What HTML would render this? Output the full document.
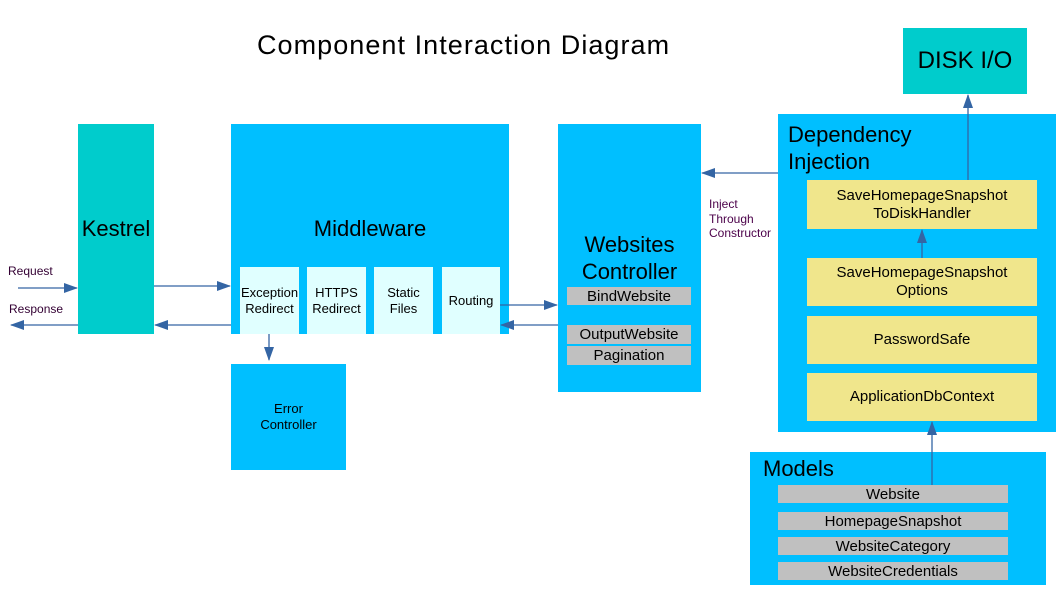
<!DOCTYPE html>
<html><head><style>
body{margin:0;width:1058px;height:595px;background:#fff;position:relative;overflow:hidden;font-family:"Liberation Sans",sans-serif;}
.b{position:absolute;box-sizing:border-box;}
.t{position:absolute;white-space:nowrap;color:#000;}
.c{display:flex;align-items:center;justify-content:center;text-align:center;line-height:1.2;}
.teal{background:#00cccc}.blue{background:#00bfff}.lc{background:#e0ffff;font-size:13px}
.y{background:#f0e68c;font-size:15px}.g{background:#c0c0c0;font-size:15px;line-height:1}
</style></head><body>
<div class="t" style="left:257px;top:30px;font-size:27px;letter-spacing:1.05px;">Component Interaction Diagram</div>
<div class="b teal c" style="left:903px;top:28px;width:124px;height:66px;font-size:24px;">DISK I/O</div>
<div class="b teal c" style="left:78px;top:124px;width:76px;height:210px;font-size:22px;">Kestrel</div>
<div class="b blue" style="left:231px;top:124px;width:278px;height:210px;"></div>
<div class="t" style="left:231px;width:278px;text-align:center;top:216px;font-size:22px;">Middleware</div>
<div class="b lc c" style="left:240px;top:267px;width:59px;height:67px;">Exception<br>Redirect</div>
<div class="b lc c" style="left:307px;top:267px;width:59px;height:67px;">HTTPS<br>Redirect</div>
<div class="b lc c" style="left:374px;top:267px;width:59px;height:67px;">Static<br>Files</div>
<div class="b lc c" style="left:442px;top:267px;width:58px;height:67px;">Routing</div>
<div class="b blue c" style="left:231px;top:364px;width:115px;height:106px;font-size:13px;">Error<br>Controller</div>
<div class="b blue" style="left:558px;top:124px;width:143px;height:268px;"></div>
<div class="t" style="left:558px;width:143px;text-align:center;top:231px;font-size:22px;line-height:27px;">Websites<br>Controller</div>
<div class="b g c" style="left:567px;top:287px;width:124px;height:18px;">BindWebsite</div>
<div class="b g c" style="left:567px;top:325px;width:124px;height:19px;">OutputWebsite</div>
<div class="b g c" style="left:567px;top:346px;width:124px;height:19px;">Pagination</div>
<div class="b blue" style="left:778px;top:114px;width:278px;height:318px;"></div>
<div class="t" style="left:788px;top:121px;font-size:22px;line-height:27px;">Dependency<br>Injection</div>
<div class="b y c" style="left:807px;top:180px;width:230px;height:49px;">SaveHomepageSnapshot<br>ToDiskHandler</div>
<div class="b y c" style="left:807px;top:258px;width:230px;height:48px;">SaveHomepageSnapshot<br>Options</div>
<div class="b y c" style="left:807px;top:316px;width:230px;height:48px;">PasswordSafe</div>
<div class="b y c" style="left:807px;top:373px;width:230px;height:48px;">ApplicationDbContext</div>
<div class="b blue" style="left:750px;top:452px;width:296px;height:133px;"></div>
<div class="t" style="left:763px;top:456px;font-size:22px;">Models</div>
<div class="b g c" style="left:778px;top:485px;width:230px;height:18px;">Website</div>
<div class="b g c" style="left:778px;top:512px;width:230px;height:18px;">HomepageSnapshot</div>
<div class="b g c" style="left:778px;top:537px;width:230px;height:18px;">WebsiteCategory</div>
<div class="b g c" style="left:778px;top:562px;width:230px;height:18px;">WebsiteCredentials</div>
<div class="t" style="left:8px;top:264px;font-size:12px;color:#330033;">Request</div>
<div class="t" style="left:9px;top:302px;font-size:12px;color:#330033;">Response</div>
<div class="t" style="left:709px;top:197px;font-size:12px;line-height:14.5px;color:#4b0049;">Inject<br>Through<br>Constructor</div>
<svg width="1058" height="595" style="position:absolute;left:0;top:0">
<defs><marker id="a" markerWidth="14" markerHeight="10" refX="13" refY="5" orient="auto" markerUnits="userSpaceOnUse"><path d="M0,0L14,5L0,10z" fill="#3465a4"/></marker></defs>
<g stroke="#3465a4" stroke-width="1.3" marker-end="url(#a)">
<line x1="18" y1="288" x2="77" y2="288"/>
<line x1="78" y1="325" x2="11" y2="325"/>
<line x1="154" y1="286" x2="230" y2="286"/>
<line x1="231" y1="325" x2="155" y2="325"/>
<line x1="500" y1="305" x2="557" y2="305"/>
<line x1="558" y1="325" x2="501" y2="325"/>
<line x1="269" y1="334" x2="269" y2="360"/>
<line x1="778" y1="173" x2="702" y2="173"/>
<line x1="968" y1="180" x2="968" y2="95"/>
<line x1="922" y1="258" x2="922" y2="230"/>
<line x1="932" y1="485" x2="932" y2="422"/>
</g></svg>
</body></html>
